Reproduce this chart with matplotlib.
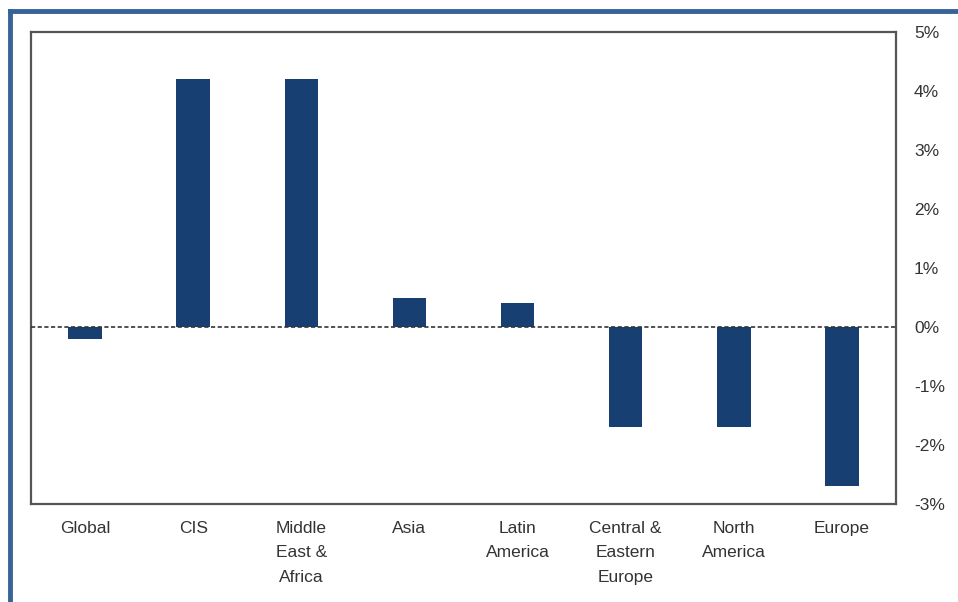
import matplotlib as mpl
import matplotlib.pyplot as plt
from matplotlib.lines import Line2D
from matplotlib.ticker import FuncFormatter

mpl.rcParams['font.family'] = 'Liberation Sans'

regions = ['Global', 'CIS', 'Middle\nEast &\nAfrica', 'Asia', 'Latin\nAmerica',
           'Central &\nEastern\nEurope', 'North\nAmerica', 'Europe']
growth = [-0.2, 4.2, 4.2, 0.5, 0.4, -1.7, -1.7, -2.7]
yticks = [-3, -2, -1, 0, 1, 2, 3, 4, 5]

bar_color = '#173f72'
frame_color = '#35639a'
text_color = '#333333'

fig = plt.figure(figsize=(9.58, 6.02), dpi=100)
ax = fig.add_axes([31 / 958, 1 - 504 / 602, 865 / 958, 472 / 602])

x = list(range(len(regions)))
ax.bar(x, growth, width=0.31, color=bar_color, zorder=2)
ax.axhline(0, color='#333333', linestyle=(0, (2.5, 1.5)), linewidth=1.2, zorder=3)

ax.set_xlim(-0.5, len(regions) - 0.5)
ax.set_ylim(-3, 5)
ax.set_yticks(yticks)
ax.yaxis.set_major_formatter(FuncFormatter(lambda v, p: f'{v:.0f}%'))
ax.yaxis.tick_right()
ax.tick_params(axis='y', length=0, pad=13, labelsize=12.5, colors=text_color)
ax.set_xticks(x)
ax.set_xticklabels(regions, linespacing=1.8)
ax.tick_params(axis='x', length=0, pad=12, labelsize=12.5, colors=text_color)
for lbl in ax.get_xticklabels():
    lbl.set_verticalalignment('top')

for side in ax.spines.values():
    side.set_color('#555555')
    side.set_linewidth(1.6)

# outer blue frame, top and left edges only
fig.add_artist(Line2D([10 / 958, 1], [1 - 11 / 602, 1 - 11 / 602],
                      color=frame_color, linewidth=3.5, transform=fig.transFigure))
fig.add_artist(Line2D([10 / 958, 10 / 958], [0, 1 - 11 / 602],
                      color=frame_color, linewidth=3.5, transform=fig.transFigure))

fig.savefig('out.png', dpi=100)
